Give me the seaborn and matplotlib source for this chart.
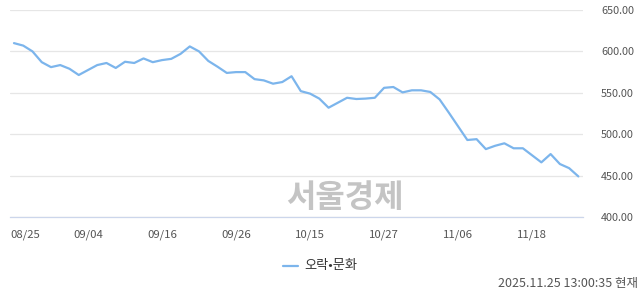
import matplotlib
matplotlib.use("Agg")
import matplotlib.pyplot as plt
import matplotlib.transforms as mtransforms
import seaborn as sns
import pandas as pd
import numpy as np

sns.set_theme(style="white")
plt.rcParams['font.family'] = ['Noto Sans CJK KR', 'DejaVu Sans']

values = [610, 607, 600, 587, 581, 583.5, 579, 571.5, 577.5, 583.5,
          586, 580, 587.5, 586, 591.5, 587, 589.5, 591, 597, 606,
          600, 588.5, 581.5, 574, 575, 575, 566.5, 565, 561, 563,
          570, 552, 549, 543, 532, 538, 544, 542.5, 543, 544,
          556, 557, 550.5, 553, 553, 551, 542, 526, 509.5, 493,
          494, 482, 486, 489, 483, 483, 474.5, 466, 476, 464,
          459, 449]
tick_labels = ["08/25", "09/04", "09/16", "09/26", "10/15", "10/27", "11/06", "11/18"]
tick_pos = [0, 8, 16, 24, 32, 40, 48, 56]
y_ticks = [400, 450, 500, 550, 600, 650]
series_name = "오락•문화"
stamp = "2025.11.25 13:00:35 현재"
watermark = "서울경제"

df = pd.DataFrame({"idx": np.arange(len(values)), "value": values})

W, H = 640, 294
fig = plt.figure(figsize=(W / 100, H / 100), dpi=100)
ax = fig.add_axes([10 / W, 1 - 217 / H, (583 - 10) / W, (217 - 10) / H])

sns.lineplot(data=df, x="idx", y="value", ax=ax, color="#7cb5ec", linewidth=1.6)

ax.set_xlim(-0.43, 61.5)
ax.set_ylim(400, 650)
ax.set_yticks(y_ticks)
ax.set_yticklabels([f"{v:.2f}" for v in y_ticks], fontsize=7.8, color="#555555")
ax.yaxis.tick_right()
ax.tick_params(axis="y", length=0, pad=13)
ax.set_xticks(tick_pos)
ax.set_xticklabels(tick_labels, fontsize=8.2, color="#555555")
ax.tick_params(axis="x", length=6, width=0.8, color="#ccd6eb", pad=3)
first = ax.get_xticklabels()[0]
first.set_horizontalalignment("left")
first.set_transform(first.get_transform() +
                    mtransforms.ScaledTranslation(-4 / 100, 0, fig.dpi_scale_trans))
ax.grid(axis="y", color="#e6e6e6", linewidth=0.9)
ax.grid(axis="x", visible=False)
for s in ["top", "left", "right"]:
    ax.spines[s].set_visible(False)
ax.spines["bottom"].set_color("#ccd6eb")
ax.spines["bottom"].set_linewidth(0.9)
ax.set_xlabel("")
ax.set_ylabel("")
if ax.get_legend():
    ax.get_legend().remove()

fig.text(345 / W, 1 - 198 / H, watermark, fontsize=23, fontweight="bold",
         color="#c4c4c4", ha="center", va="center")

fig.lines.append(plt.Line2D([283 / W, 298 / W], [1 - 266 / H, 1 - 266 / H],
                            transform=fig.transFigure, color="#7cb5ec", linewidth=1.6))
fig.text(304 / W, 1 - 266 / H, series_name, fontsize=9.5, color="#333333",
         ha="left", va="center")
fig.text(638 / W, 1 - 283 / H, stamp, fontsize=9, color="#555555",
         ha="right", va="center")

fig.savefig("out.png", dpi=100)
